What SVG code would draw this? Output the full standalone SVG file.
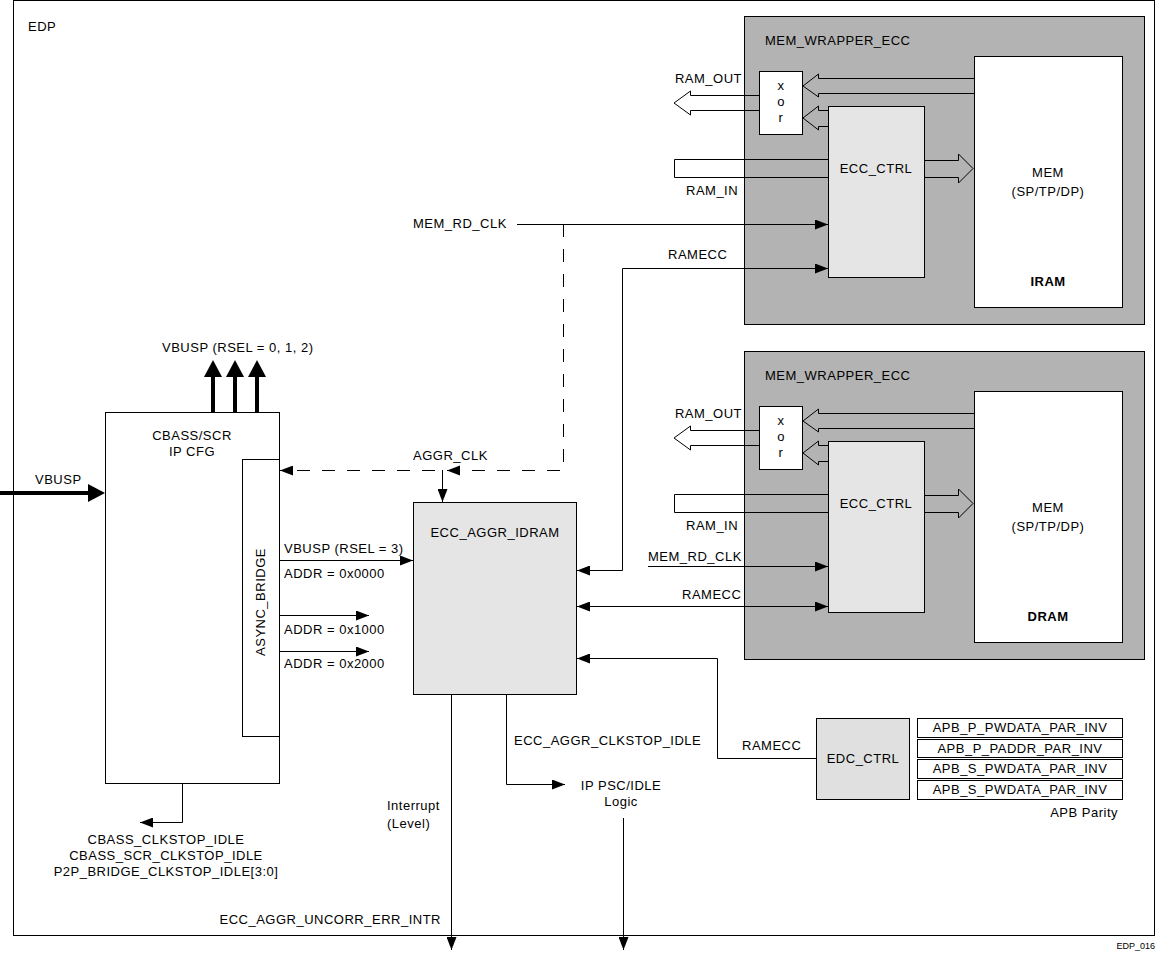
<svg xmlns="http://www.w3.org/2000/svg" width="1157" height="953" viewBox="0 0 1157 953">
<defs>
<style>
text{font-family:"Liberation Sans",Arial,sans-serif;font-size:13px;letter-spacing:0.5px;fill:#000}
.c{text-anchor:middle}
.e{text-anchor:end}
.box{stroke:#000;stroke-width:1}
.wrap{fill:#b3b3b3}
.lt{fill:#e5e5e5}
.w{fill:#fff}
.ln{fill:none;stroke:#000;stroke-width:1}
.dash{stroke-dasharray:13 12}
.thick{fill:none;stroke:#000;stroke-width:4}
.b{font-weight:bold}
</style>
<marker id="ah" markerUnits="userSpaceOnUse" viewBox="0 0 13 10" markerWidth="13" markerHeight="10" refX="13" refY="5" orient="auto-start-reverse"><path d="M0,0L13,5L0,10z" fill="#000"/></marker>
<marker id="ahb" markerUnits="userSpaceOnUse" viewBox="0 0 17 18" markerWidth="17" markerHeight="18" refX="0" refY="9" orient="auto"><path d="M0,0L17,9L0,18z" fill="#000"/></marker>
</defs>
<rect width="1157" height="953" fill="#fff"/>

<g id="edp">
<rect x="13.5" y="0.5" width="1141" height="935" class="box" fill="#fff"/>
<text x="28" y="31">EDP</text>
</g>

<g id="mem_wrapper_iram">
<rect x="744.5" y="16.5" width="400" height="308" class="box wrap"/>
<text x="765" y="45">MEM_WRAPPER_ECC</text>
<g id="xor_iram"><rect x="759.5" y="71.5" width="43" height="63" class="box w"/>
<text x="781" y="90" class="c">x</text><text x="781" y="106" class="c">o</text><text x="781" y="122" class="c">r</text></g>
<g id="ecc_ctrl_iram"><rect x="828.5" y="106.5" width="96" height="171" class="box lt"/>
<text x="876" y="173" class="c">ECC_CTRL</text></g>
<g id="mem_iram"><rect x="974.5" y="56.5" width="148" height="251" class="box w"/>
<text x="1048" y="177" class="c">MEM</text><text x="1048" y="196" class="c">(SP/TP/DP)</text>
<text x="1048" y="286" class="c b">IRAM</text></g>
</g>

<g id="mem_wrapper_dram">
<rect x="744.5" y="351.5" width="400" height="308" class="box wrap"/>
<text x="765" y="380">MEM_WRAPPER_ECC</text>
<g id="xor_dram"><rect x="759.5" y="406.5" width="43" height="63" class="box w"/>
<text x="781" y="425" class="c">x</text><text x="781" y="441" class="c">o</text><text x="781" y="457" class="c">r</text></g>
<g id="ecc_ctrl_dram"><rect x="828.5" y="441.5" width="96" height="171" class="box lt"/>
<text x="876" y="508" class="c">ECC_CTRL</text></g>
<g id="mem_dram"><rect x="974.5" y="391.5" width="148" height="251" class="box w"/>
<text x="1048" y="512" class="c">MEM</text><text x="1048" y="531" class="c">(SP/TP/DP)</text>
<text x="1048" y="621" class="c b">DRAM</text></g>
</g>

<g id="cbass_scr">
<rect x="105.5" y="412.5" width="174" height="371" class="box w"/>
<text x="192" y="440" class="c">CBASS/SCR</text>
<text x="192" y="456" class="c">IP CFG</text>
</g>
<g id="async_bridge">
<rect x="242.5" y="459.5" width="37" height="277" class="box w"/>
<text transform="translate(265,602) rotate(-90)" class="c">ASYNC_BRIDGE</text>
</g>

<g id="ecc_aggr_idram">
<rect x="413.5" y="502.5" width="163" height="192" class="box lt"/>
<text x="495" y="537" class="c">ECC_AGGR_IDRAM</text>
</g>

<g id="edc_ctrl">
<rect x="816.5" y="718.5" width="93" height="81" class="box" fill="#e0e0e0"/>
<text x="863" y="763" class="c">EDC_CTRL</text>
</g>

<g id="apb_parity">
<rect x="917.5" y="718.5" width="205" height="19" class="box w"/>
<rect x="917.5" y="739.5" width="205" height="18" class="box w"/>
<rect x="917.5" y="759.5" width="205" height="19" class="box w"/>
<rect x="917.5" y="780.5" width="205" height="19" class="box w"/>
<text x="1020" y="732" class="c">APB_P_PWDATA_PAR_INV</text>
<text x="1020" y="753" class="c">APB_P_PADDR_PAR_INV</text>
<text x="1020" y="773" class="c">APB_S_PWDATA_PAR_INV</text>
<text x="1020" y="794" class="c">APB_S_PWDATA_PAR_INV</text>
<text x="1118" y="817" class="e">APB Parity</text>
</g>

<g id="connectors">
<g id="wrapper_iram_buses">
<polyline class="ln" points="974,78.5 818.5,78.5 818.5,74 803,86 818.5,97 818.5,93.5 974,93.5"/>
<polyline class="ln" points="828,110.5 818.5,110.5 818.5,106 803,118 818.5,130 818.5,126.5 828,126.5"/>
<polyline class="ln" points="759,95.5 690.5,95.5 690.5,91 674,103 690.5,115 690.5,110.5 759,110.5"/>
<polyline class="ln" points="828,159.5 674.5,159.5 674.5,177.5 828,177.5"/>
<polyline class="ln" points="925,160.5 958.5,160.5 958.5,154 973,168.5 958.5,183 958.5,177.5 925,177.5"/>
</g>
<g id="wrapper_dram_buses" transform="translate(0,335)">
<polyline class="ln" points="974,78.5 818.5,78.5 818.5,74 803,86 818.5,97 818.5,93.5 974,93.5"/>
<polyline class="ln" points="828,110.5 818.5,110.5 818.5,106 803,118 818.5,130 818.5,126.5 828,126.5"/>
<polyline class="ln" points="759,95.5 690.5,95.5 690.5,91 674,103 690.5,115 690.5,110.5 759,110.5"/>
<polyline class="ln" points="828,159.5 674.5,159.5 674.5,177.5 828,177.5"/>
<polyline class="ln" points="925,160.5 958.5,160.5 958.5,154 973,168.5 958.5,183 958.5,177.5 925,177.5"/>
</g>
<path class="ln" d="M517,224.5H828" marker-end="url(#ah)"/>
<path class="ln" d="M577,570.5H622.5V268.5H828" marker-start="url(#ah)" marker-end="url(#ah)"/>
<path class="ln" d="M648,566.5H828" marker-end="url(#ah)"/>
<path class="ln" d="M577,606.5H828" marker-start="url(#ah)" marker-end="url(#ah)"/>
<path class="ln" d="M577,658.5H717.5V758.5H816" marker-start="url(#ah)"/>
<path class="ln dash" d="M563.5,224V470.5H280" marker-end="url(#ah)"/>
<polygon points="447,470.5 460,465.5 460,475.5" fill="#000"/>
<path class="ln" d="M442.5,470V502" marker-end="url(#ah)"/>
<path class="ln" d="M280,560.5H413" marker-end="url(#ah)"/>
<path class="ln" d="M280,615.5H369" marker-end="url(#ah)"/>
<path class="ln" d="M280,651.5H369" marker-end="url(#ah)"/>
<path class="thick" d="M213,412V377" marker-end="url(#ahb)"/>
<path class="thick" d="M235,412V377" marker-end="url(#ahb)"/>
<path class="thick" d="M257,412V377" marker-end="url(#ahb)"/>
<path class="thick" d="M0,493H88" marker-end="url(#ahb)"/>
<path class="ln" d="M182.5,784V822.5H140" marker-end="url(#ah)"/>
<path class="ln" d="M451.5,695V950" marker-end="url(#ah)"/>
<path class="ln" d="M506.5,695V784.5H565" marker-end="url(#ah)"/>
<path class="ln" d="M623.5,818V950" marker-end="url(#ah)"/>
</g>

<g id="labels">
<text x="742" y="83" class="e">RAM_OUT</text>
<text x="686" y="195">RAM_IN</text>
<text x="742" y="418" class="e">RAM_OUT</text>
<text x="686" y="530">RAM_IN</text>
<text x="413" y="228">MEM_RD_CLK</text>
<text x="668" y="259">RAMECC</text>
<text x="648" y="561">MEM_RD_CLK</text>
<text x="682" y="599">RAMECC</text>
<text x="742" y="750">RAMECC</text>
<text x="413" y="460">AGGR_CLK</text>
<text x="162" y="352">VBUSP (RSEL = 0, 1, 2)</text>
<text x="35" y="484">VBUSP</text>
<text x="284" y="553">VBUSP (RSEL = 3)</text>
<text x="284" y="578">ADDR = 0x0000</text>
<text x="284" y="634">ADDR = 0x1000</text>
<text x="284" y="668">ADDR = 0x2000</text>
<text x="166" y="844" class="c">CBASS_CLKSTOP_IDLE</text>
<text x="166" y="860" class="c">CBASS_SCR_CLKSTOP_IDLE</text>
<text x="166" y="876" class="c">P2P_BRIDGE_CLKSTOP_IDLE[3:0]</text>
<text x="387" y="810">Interrupt</text>
<text x="387" y="828">(Level)</text>
<text x="441" y="924" class="e">ECC_AGGR_UNCORR_ERR_INTR</text>
<text x="514" y="745">ECC_AGGR_CLKSTOP_IDLE</text>
<text x="621" y="790" class="c">IP PSC/IDLE</text>
<text x="621" y="806" class="c">Logic</text>
<text x="1155" y="949" class="e" style="font-size:9px;letter-spacing:0">EDP_016</text>
</g>
</svg>
